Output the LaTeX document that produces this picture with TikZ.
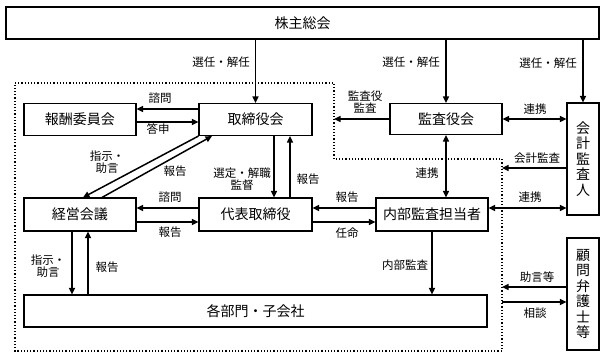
\documentclass[tikz,border=0pt]{standalone}
\usepackage{fontspec}
\setmainfont{Noto Sans CJK JP}
\usetikzlibrary{arrows.meta}
\begin{document}
\begin{tikzpicture}[x=1pt,y=-1pt,
  box/.style={draw,line width=1.1pt,inner sep=0pt,font=\fontsize{14}{16}\selectfont},
  vbox/.style={box,minimum width=32pt,minimum height=112pt,align=center,font=\fontsize{14}{15.5}\selectfont},
  lab/.style={inner sep=0pt,font=\fontsize{11.5}{12.5}\selectfont,align=center},
  arr/.style={line width=1.5pt,-{Triangle[length=6.5pt,width=6pt]}},
  darr/.style={line width=1.5pt,{Triangle[length=6.5pt,width=6pt]}-{Triangle[length=6.5pt,width=6pt]}},
  zone/.style={line width=1.2pt,dotted}]
\useasboundingbox (0,0) rectangle (606,360);
% boxes
\node[box,minimum width=593pt,minimum height=32pt] (top) at (302.5,23) {株主総会};
\node[box,minimum width=112pt,minimum height=32pt] (hoshu) at (80,119.5) {報酬委員会};
\node[box,minimum width=113pt,minimum height=32pt] (tori) at (255.5,119.5) {取締役会};
\node[box,minimum width=112pt,minimum height=31pt] (kansa) at (446,119) {監査役会};
\node[vbox] (kaikei) at (583,159) {会\\計\\監\\査\\人};
\node[box,minimum width=112pt,minimum height=33pt] (keiei) at (80,214.5) {経営会議};
\node[box,minimum width=113pt,minimum height=33pt] (daihyo) at (255.5,214.5) {代表取締役};
\node[box,minimum width=112pt,minimum height=33pt] (naibu) at (432,214.5) {内部監査担当者};
\node[box,minimum width=463pt,minimum height=32pt] (kakubu) at (255.5,311) {各部門・子会社};
\node[vbox] (komon) at (583,294) {顧\\問\\弁\\護\\士\\等};
% dotted zone
\draw[zone] (15,83) -- (334,83) -- (334,159) -- (502,159) -- (502,351) -- (15,351) -- cycle;
% free ends on the zone border and helper points
\coordinate (zk) at (334,119);
\coordinate (zkk) at (502,168);
\coordinate (zj) at (502,287);
\coordinate (zs) at (502,302);
\coordinate (kd) at ([xshift=-8pt]keiei.south);
\coordinate (ku) at ([xshift=8pt]keiei.south);
\coordinate (nr) at ([yshift=6.5pt]naibu.east);
% from shareholders
\draw[arr] (top.south -| tori.north) -- (tori.north);
\draw[arr] (top.south -| kansa.north) -- (kansa.north);
\draw[arr] (top.south -| kaikei.north) -- (kaikei.north);
\node[lab] (l1) at (221,62) {選任・解任};
\node[lab] (l2) at (411,62) {選任・解任};
\node[lab] (l3) at (548,63) {選任・解任};
% hoshu <-> tori
\draw[arr] ([yshift=10.5pt]tori.west) -- ([yshift=10.5pt]hoshu.east);
\draw[arr] ([yshift=-2.5pt]hoshu.east) -- ([yshift=-2.5pt]tori.west);
\node[lab] (l4) at (160,98) {諮問};
\node[lab] (l5) at (158,129) {答申};
% diagonals
\draw[arr] (tori.south west) -- ([xshift=3pt]keiei.north);
\draw[arr] ([xshift=22pt]keiei.north) -- ([xshift=-43.5pt]tori.south);
\node[lab] (l6) at (107,162) {指示・\\助言};
\node[lab] (l7) at (175,171) {報告};
% tori <-> daihyo
\draw[arr] ([xshift=18.5pt]tori.south) -- ([xshift=18.5pt]daihyo.north);
\draw[arr] ([xshift=34.5pt]daihyo.north) -- ([xshift=34.5pt]tori.south);
\node[lab] (l8) at (242,179) {選定・解職\\監督};
\node[lab] (l9) at (308,179) {報告};
% keiei <-> daihyo
\draw[arr] ([yshift=6.5pt]daihyo.west) -- ([yshift=6.5pt]keiei.east);
\draw[arr] ([yshift=-7.5pt]keiei.east) -- ([yshift=-7.5pt]daihyo.west);
\node[lab] (l10) at (170,197) {諮問};
\node[lab] (l11) at (170,232) {報告};
% keiei <-> kakubu
\draw[arr] (kd) -- (kakubu.north -| kd);
\draw[arr] (kakubu.north -| ku) -- (ku);
\node[lab] (l12) at (48,266) {指示・\\助言};
\node[lab] (l13) at (107,267) {報告};
% naibu <-> daihyo
\draw[arr] ([yshift=6.5pt]naibu.west) -- ([yshift=6.5pt]daihyo.east);
\draw[arr] ([yshift=-7.5pt]daihyo.east) -- ([yshift=-7.5pt]naibu.west);
\node[lab] (l14) at (347,197) {報告};
\node[lab] (l15) at (347,233) {任命};
% naibu -> kakubu
\draw[arr] (naibu.south) -- (kakubu.north -| naibu.south);
\node[lab] (l16) at (405,265) {内部監査};
% kansa
\draw[arr] (kansa.west) -- (zk);
\node[lab] (l17) at (365,102) {監査役\\監査};
\draw[darr] (kansa.east) -- (kansa.east -| kaikei.west);
\node[lab] (l18) at (535,109) {連携};
\draw[darr] (kansa.south) -- (naibu.north -| kansa.south);
\node[lab] (l19) at (427,173) {連携};
% kaikei
\draw[arr] (kaikei.west |- zkk) -- (zkk);
\node[lab] (l20) at (537,158) {会計監査};
\draw[darr] (nr) -- (kaikei.west |- nr);
\node[lab] (l21) at (530,197) {連携};
% komon
\draw[arr] (komon.west |- zj) -- (zj);
\draw[arr] (zs) -- (komon.west |- zs);
\node[lab] (l22) at (537,277) {助言等};
\node[lab] (l23) at (535,313) {相談};
\end{tikzpicture}
\end{document}
